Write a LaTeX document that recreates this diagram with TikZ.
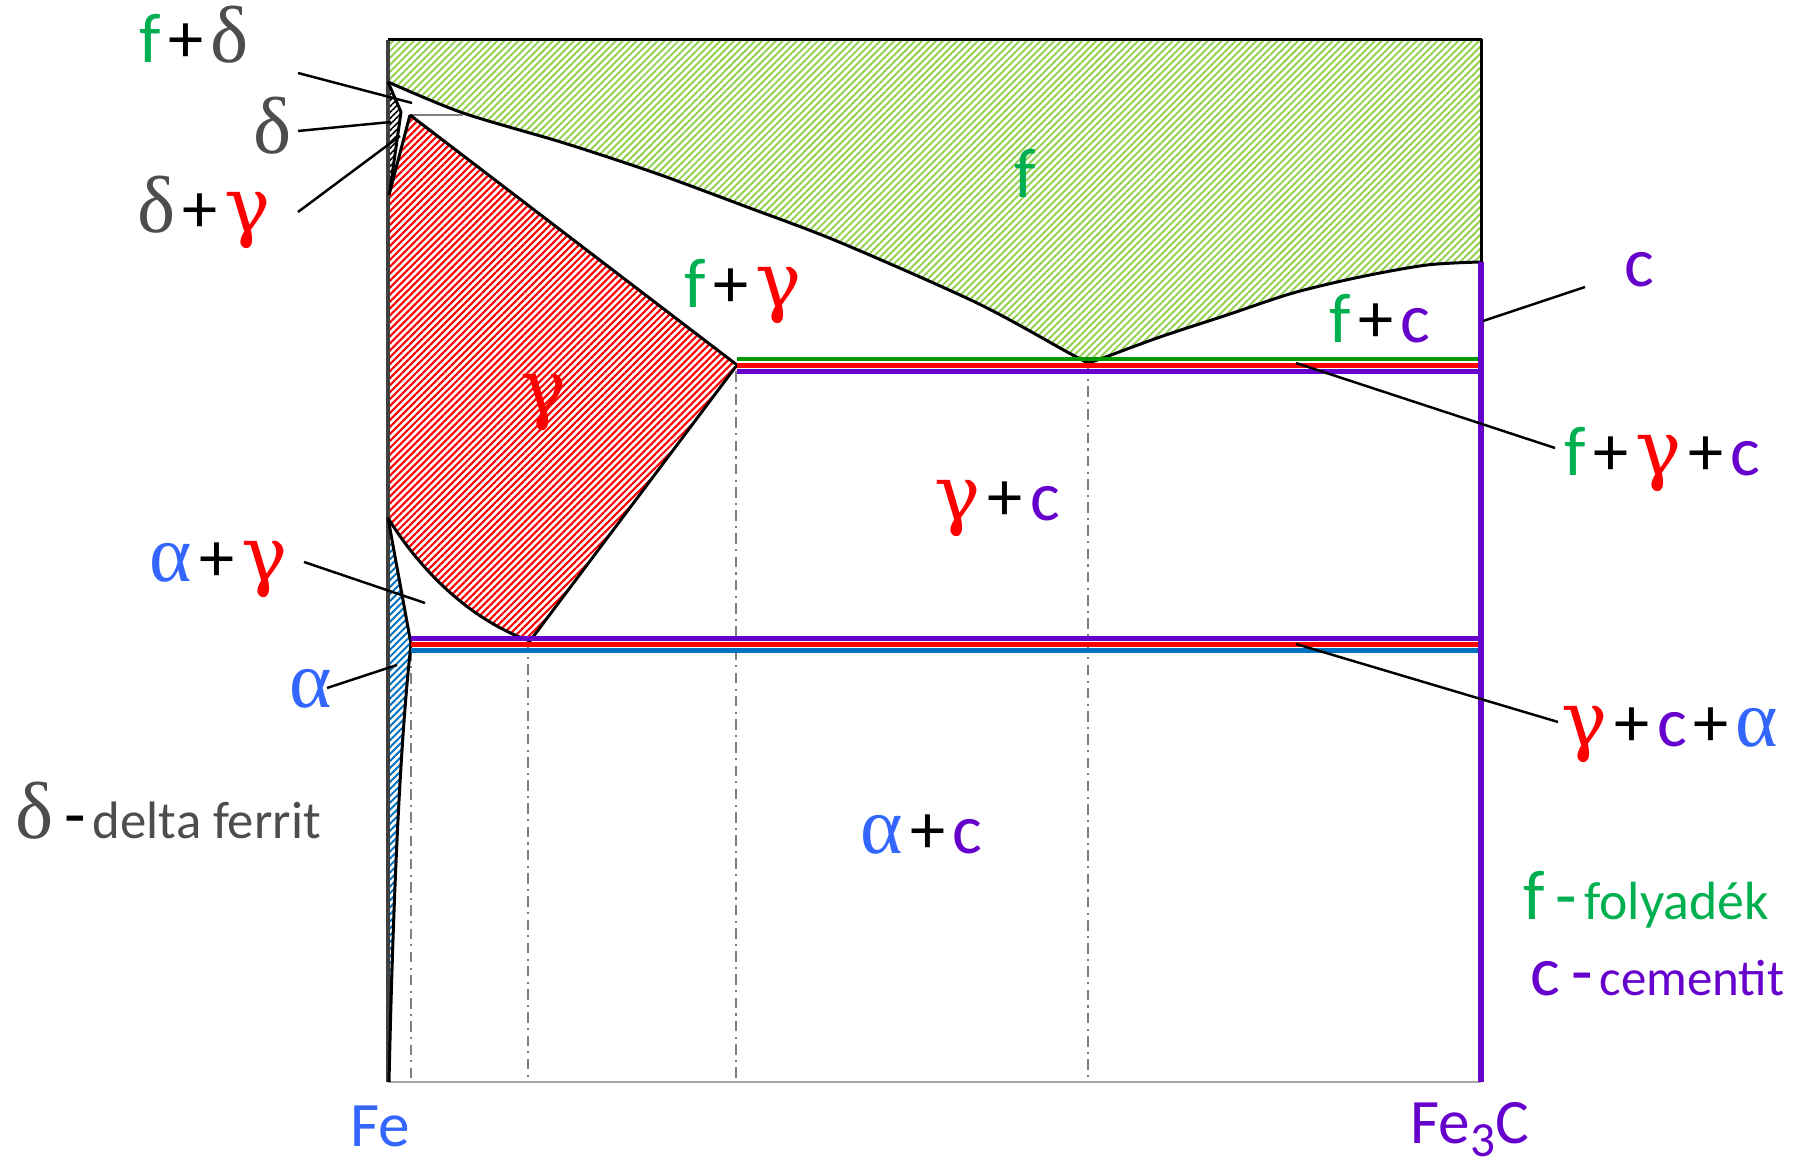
\documentclass[tikz,border=0pt]{standalone}
\usepackage{fontspec}
\setmainfont{Carlito}
\newfontfamily\grk{Liberation Serif}
\newfontfamily\grkg{DejaVu Serif}
\usetikzlibrary{patterns.meta}
\definecolor{cG}{HTML}{00B050}
\definecolor{cP}{HTML}{6600CC}
\definecolor{cR}{HTML}{FF0000}
\definecolor{cB}{HTML}{3366FF}
\definecolor{cD}{HTML}{4D4D4D}
\definecolor{hG}{HTML}{92D050}
\definecolor{hB}{HTML}{0070C0}
\definecolor{lG}{HTML}{009A00}
\newcommand\fs{\fontsize{20pt}{24pt}\selectfont}
\newcommand\gs{\fontsize{23pt}{26pt}\selectfont}
\newcommand\Tf{\textcolor{cG}{f}}
\newcommand\Tc{\textcolor{cP}{c}}
\newcommand\Tp{\kern2pt\textcolor{black}{+}\kern2pt}
\newcommand\Td{{\grk\gs\color{cD}δ}}
\newcommand\Tg{{\grkg\fontsize{22pt}{26pt}\selectfont\color{cR}γ}}
\newcommand\Ta{{\grk\gs\color{cB}α}}
\newcommand\Tdash[1]{\kern3pt\textcolor{#1}{-}\kern2pt}
\begin{document}
\begin{tikzpicture}[x=0.01cm,y=-0.01cm,
  lab/.style={inner sep=0pt,anchor=base west,font=\fs},
  leader/.style={line width=0.7pt,black},
  outl/.style={line width=0.85pt,black,line join=round},
  hatchG/.style={pattern={Lines[angle=45,distance=1.4pt,line width=0.55pt]},pattern color=hG},
  hatchR/.style={pattern={Lines[angle=45,distance=1.4pt,line width=0.6pt]},pattern color=red},
  hatchB/.style={pattern={Lines[angle=45,distance=1.4pt,line width=0.55pt]},pattern color=hB},
  hatchK/.style={pattern={Lines[angle=45,distance=1.2pt,line width=0.45pt]},pattern color=black},
  phase/.style={line width=1.25pt},
  dashdot/.style={gray,line width=0.4pt,dash pattern=on 3pt off 1.5pt on 0.6pt off 1.5pt}]
\useasboundingbox (0,0) rectangle (1797,1165);
% ---- regions
\fill[hatchG] (388,40) -- (1481,40) -- (1481,262)
  -- plot[smooth] coordinates {(1481,262) (1427,265) (1360,277) (1293,293) (1227,315) (1160,337) (1103,358) (1088,363)}
  -- plot[smooth] coordinates {(1088,363) (1069,353) (977,303) (839,242) (747,207) (655,173) (564,143) (463,113) (388,82)}
  -- cycle;
\fill[hatchR] (410,115) -- (737,365) -- (530,641) .. controls (470,620) and (420,570) .. (388,518) -- (388,195) -- cycle;
\fill[hatchB] (388,518) -- (411,644) .. controls (398,760) and (392,950) .. (389,1082) -- (388,1082) -- cycle;
\fill[hatchK] (388,82) -- (401,112) -- (390,190) -- (388,190) -- cycle;
% ---- frame
\draw[line width=0.6pt,gray!70] (388,1082) -- (1481,1082);
\draw[line width=0.9pt,black!75] (388,40) -- (388,1082);
\draw[outl] (388,40) -- (1481,40) -- (1481,262);
% ---- dash-dot verticals
\draw[dashdot] (411,650) -- (411,1082);
\draw[dashdot] (528,641) -- (528,1082);
\draw[dashdot] (736,371) -- (736,1082);
\draw[dashdot] (1088,363) -- (1088,1082);
% ---- phase boundaries
\draw[outl] plot[smooth] coordinates {(388,82) (463,113) (564,143) (655,173) (747,207) (839,242) (977,303) (1069,353) (1088,363)};
\draw[outl] plot[smooth] coordinates {(1088,363) (1103,358) (1160,337) (1227,315) (1293,293) (1360,277) (1427,265) (1481,262)};
\draw[line width=0.5pt,gray] (410,115) -- (463,115);
\draw[outl] (388,82) -- (401,112) -- (390,190);
\draw[outl] (410,115) -- (737,365) -- (530,641) .. controls (470,620) and (420,570) .. (388,518);
\draw[outl] (410,115) -- (389,195);
\draw[outl] (388,518) -- (411,644) .. controls (398,760) and (392,950) .. (389,1082);
% ---- horizontal invariant lines
\draw[phase,lG] (737,359) -- (1481,359);
\draw[phase,cR] (737,365.5) -- (1481,365.5);
\draw[phase,cP] (737,371.5) -- (1481,371.5);
\draw[phase,cP] (411,638.5) -- (1481,638.5);
\draw[phase,cR] (411,644.5) -- (1481,644.5);
\draw[phase,hB] (411,650.5) -- (1481,650.5);
% ---- Fe3C line
\draw[line width=1.9pt,cP] (1481,262) -- (1481,1082);
% ---- labels
\node[lab] (LfD) at (139,63) {\Tf\Tp\Td};
\node[lab] (Ld) at (253,154) {\Td};
\node[lab] (LdG) at (137,233) {\Td\Tp\Tg};
\node[lab] (Lf) at (1014,198) {\Tf};
\node[lab] (LfG) at (684,308) {\Tf\Tp\Tg};
\node[lab,anchor=base] (LG) at (544,415) {\Tg};
\node[lab,anchor=base] (Lc) at (1639,287) {\Tc};
\node[lab] (LfC) at (1329,343) {\Tf\Tp\Tc};
\node[lab] (LfGC) at (1564,476) {\Tf\Tp\Tg\Tp\Tc};
\node[lab] (LGC) at (934,521) {\Tg\Tp\Tc};
\node[lab] (LAG) at (149,582) {\Ta\Tp\Tg};
\node[lab] (LA) at (289,708) {\Ta};
\node[lab] (LGCA) at (1561,747) {\Tg\Tp\Tc\Tp\Ta};
\node[lab] (LAC) at (860,854) {\Ta\Tp\Tc};
\node[lab] (Ldelta) at (15,839) {\Td\Tdash{black}{\fontsize{15pt}{18pt}\selectfont\color{cD}delta ferrit}};
\node[lab] (Lfoly) at (1523,920) {\Tf\Tdash{cG}{\fontsize{15.3pt}{18pt}\selectfont\color{cG}folyadék}};
\node[lab] (Lcem) at (1530,996) {\Tc\Tdash{cP}{\fontsize{14.5pt}{18pt}\selectfont\color{cP}cementit}};
\node[lab,font=\fontsize{18pt}{22pt}\selectfont,text=cB] (LFe) at (350,1147) {Fe};
\node[lab,font=\fontsize{18pt}{22pt}\selectfont,text=cP] (LFe3C) at (1410,1144) {Fe\raisebox{-0.4ex}{\fontsize{14pt}{16pt}\selectfont 3}C};
% ---- leader lines
\coordinate (a1) at (298,73);   \coordinate (b1) at (412,103);
\coordinate (a2) at (298,131);  \coordinate (b2) at (391,122);
\coordinate (a3) at (298,212);  \coordinate (b3) at (400,136);
\coordinate (a4) at (1585,287); \coordinate (b4) at (1483,321);
\coordinate (a5) at (1555,448); \coordinate (b5) at (1296,363);
\coordinate (a6) at (304,562);  \coordinate (b6) at (425,603);
\coordinate (a7) at (327,688);  \coordinate (b7) at (397,665);
\coordinate (a8) at (1558,722); \coordinate (b8) at (1296,644);
\foreach \i in {1,...,8} \draw[leader] (a\i) -- (b\i);
\end{tikzpicture}
\end{document}
